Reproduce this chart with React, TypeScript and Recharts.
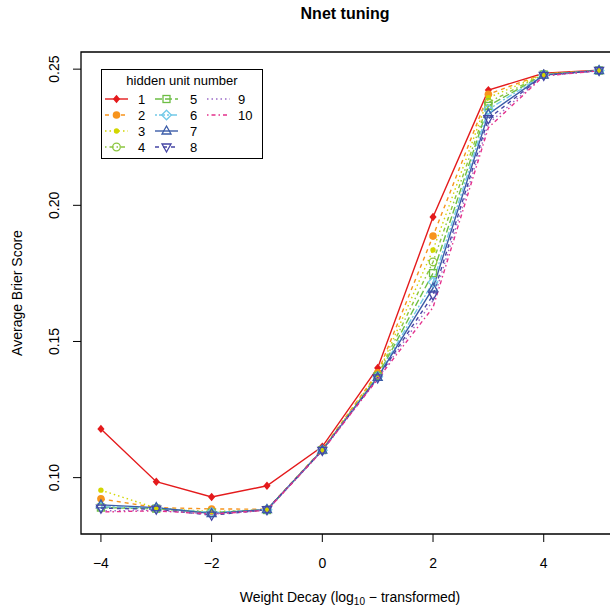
import { LineChart, Line, XAxis, YAxis, ReferenceArea, Legend } from "recharts";

// weight decay (log10) on x, average Brier score per hidden unit count
const DECAY = [-4, -3, -2, -1, 0, 1, 2, 3, 4, 5];
const HIDDEN_UNITS = ["1", "2", "3", "4", "5", "6", "7", "8", "9", "10"];

const BRIER_1 = [0.1179, 0.0985, 0.0929, 0.097, 0.1114, 0.1403, 0.1957, 0.2423, 0.2485, 0.2496];
const BRIER_2 = [0.0922, 0.089, 0.0885, 0.0884, 0.1104, 0.1385, 0.1887, 0.2408, 0.2483, 0.2495];
const BRIER_3 = [0.0954, 0.0888, 0.0875, 0.0882, 0.1103, 0.138, 0.1836, 0.2395, 0.2482, 0.2495];
const BRIER_4 = [0.0892, 0.0887, 0.0872, 0.0882, 0.1102, 0.1375, 0.1792, 0.2378, 0.2481, 0.2495];
const BRIER_5 = [0.089, 0.0886, 0.0871, 0.0881, 0.1101, 0.1372, 0.1751, 0.2365, 0.248, 0.2495];
const BRIER_6 = [0.0893, 0.0888, 0.0872, 0.0882, 0.1101, 0.137, 0.1718, 0.2352, 0.2479, 0.2495];
const BRIER_7 = [0.09, 0.089, 0.0868, 0.0883, 0.1101, 0.1368, 0.1696, 0.2335, 0.2478, 0.2495];
const BRIER_8 = [0.0888, 0.0884, 0.0862, 0.0882, 0.11, 0.1366, 0.167, 0.2318, 0.2477, 0.2495];
const BRIER_9 = [0.0878, 0.088, 0.0866, 0.088, 0.11, 0.1364, 0.165, 0.23, 0.2476, 0.2494];
const BRIER_10 = [0.0874, 0.0878, 0.0866, 0.088, 0.1099, 0.1362, 0.1625, 0.2285, 0.2475, 0.2494];

const BRIER = [BRIER_1, BRIER_2, BRIER_3, BRIER_4, BRIER_5, BRIER_6, BRIER_7, BRIER_8, BRIER_9, BRIER_10];

const X_TICKS = [-4, -2, 0, 2, 4];
const Y_TICKS = [0.1, 0.15, 0.2, 0.25];

const X_DOMAIN: [number, number] = [-4.36, 5.36];
const Y_DOMAIN: [number, number] = [0.0793, 0.2563];

type MarkerKind = "diamondFilled" | "dot" | "smallDot" | "circle" | "square" | "diamond" | "triangle" | "triangleDown" | null;

const STYLES: { color: string; dash?: string; marker: MarkerKind }[] = [
  { color: "#e41a1c", marker: "diamondFilled" },
  { color: "#f7941d", dash: "4 4", marker: "dot" },
  { color: "#d2d600", dash: "1.5 3", marker: "smallDot" },
  { color: "#8cc63f", dash: "1.5 3 4 3", marker: "circle" },
  { color: "#6dbe45", dash: "7 3", marker: "square" },
  { color: "#72c9e8", dash: "2 2 6 2", marker: "diamond" },
  { color: "#3b5ca8", marker: "triangle" },
  { color: "#4545a5", dash: "4 4", marker: "triangleDown" },
  { color: "#9b6bc6", dash: "1.5 3", marker: null },
  { color: "#e4318c", dash: "1.5 3 4 3", marker: null },
];

const FONT = "'Liberation Sans', Arial, Helvetica, sans-serif";

const rows = DECAY.map((x, i) => {
  const r: Record<string, number> = { x };
  HIDDEN_UNITS.forEach((h, k) => { r["h" + h] = BRIER[k][i]; });
  return r;
});

function Marker({ kind, cx, cy, color }: { kind: MarkerKind; cx: number; cy: number; color: string }) {
  switch (kind) {
    case "diamondFilled":
      return <polygon points={`${cx},${cy - 4.2} ${cx + 3.6},${cy} ${cx},${cy + 4.2} ${cx - 3.6},${cy}`} fill={color} />;
    case "dot":
      return <circle cx={cx} cy={cy} r={3.8} fill={color} />;
    case "smallDot":
      return <circle cx={cx} cy={cy} r={2.7} fill={color} />;
    case "circle":
      return <circle cx={cx} cy={cy} r={3.8} fill="none" stroke={color} strokeWidth={1.3} />;
    case "square":
      return <rect x={cx - 3.5} y={cy - 3.5} width={7} height={7} fill="none" stroke={color} strokeWidth={1.3} />;
    case "diamond":
      return <polygon points={`${cx},${cy - 4.8} ${cx + 4.8},${cy} ${cx},${cy + 4.8} ${cx - 4.8},${cy}`} fill="none" stroke={color} strokeWidth={1.3} />;
    case "triangle":
      return <polygon points={`${cx},${cy - 5} ${cx + 4.5},${cy + 3} ${cx - 4.5},${cy + 3}`} fill="none" stroke={color} strokeWidth={1.3} />;
    case "triangleDown":
      return <polygon points={`${cx},${cy + 5} ${cx + 4.5},${cy - 3} ${cx - 4.5},${cy - 3}`} fill="none" stroke={color} strokeWidth={1.3} />;
    default:
      return null;
  }
}

const LegendBox = () => (
  <svg width={162} height={90} style={{ display: "block", fontFamily: FONT }}>
    <rect x={0.5} y={0.5} width={161} height={89} fill="#fff" stroke="#000" />
    <text x={81} y={16} textAnchor="middle" fontSize={13} fill="#000">hidden unit number</text>
    {HIDDEN_UNITS.map((h, i) => {
      const col = Math.floor(i / 4);
      const row = i % 4;
      const x0 = [4, 54, 106][col];
      const cy = 30 + row * 16;
      const s = STYLES[i];
      return (
        <g key={h}>
          <line x1={x0} x2={x0 + 23} y1={cy} y2={cy} stroke={s.color} strokeWidth={1.4} strokeDasharray={s.dash} />
          <Marker kind={s.marker} cx={x0 + 11.5} cy={cy} color={s.color} />
          <text x={[37, 89, 137][col]} y={cy + 4.5} fontSize={13} fill="#000">{h}</text>
        </g>
      );
    })}
  </svg>
);

const XTick = ({ x, y, payload }: any) => (
  <text x={x} y={y + 24} textAnchor="middle" fontSize={14} fill="#000" fontFamily={FONT}>
    {String(payload.value).replace("-", "\u2212")}
  </text>
);

const YTick = ({ x, y, payload }: any) => (
  <text x={x - 12} y={y} transform={`rotate(-90, ${x - 12}, ${y})`} textAnchor="middle" fontSize={14} fill="#000" fontFamily={FONT}>
    {Number(payload.value).toFixed(2)}
  </text>
);

const XLabel = ({ viewBox }: any) => (
  <text x={viewBox.x + viewBox.width / 2} y={viewBox.y + 68} textAnchor="middle" fontSize={14} fill="#000" fontFamily={FONT}>
    <tspan>Weight Decay (log</tspan>
    <tspan fontSize={10} dy={3}>10</tspan>
    <tspan dy={-3}>{" \u2212 transformed)"}</tspan>
  </text>
);

const YLabel = ({ viewBox }: any) => {
  const cx = viewBox.x - 19;
  const cy = viewBox.y + viewBox.height / 2;
  return (
    <text x={cx} y={cy} transform={`rotate(-90, ${cx}, ${cy})`} textAnchor="middle" fontSize={14} fill="#000" fontFamily={FONT}>
      Average Brier Score
    </text>
  );
};

export default function App() {
  return (
    <div style={{ position: "fixed", left: 0, top: 0, width: 610, height: 609, overflow: "hidden", background: "#fff" }}>
      <div style={{ position: "absolute", left: 245, top: 6, width: 200, textAlign: "center", fontFamily: FONT, fontWeight: "bold", fontSize: 16, lineHeight: "16px" }}>
        Nnet tuning
      </div>
      <LineChart width={630} height={609} data={rows} margin={{ top: 52, right: 11, left: 41, bottom: 35 }}>
        <XAxis
          type="number"
          dataKey="x"
          domain={X_DOMAIN}
          ticks={X_TICKS}
          allowDataOverflow
          axisLine={false}
          tickLine={{ stroke: "#000" }}
          tickSize={8}
          height={40}
          tick={XTick}
          label={XLabel}
        />
        <YAxis
          type="number"
          domain={Y_DOMAIN}
          ticks={Y_TICKS}
          allowDataOverflow
          axisLine={false}
          tickLine={{ stroke: "#000" }}
          tickSize={8}
          width={40}
          tick={YTick}
          label={YLabel}
        />
        <ReferenceArea x1={X_DOMAIN[0]} x2={X_DOMAIN[1]} y1={Y_DOMAIN[0]} y2={Y_DOMAIN[1]} fill="none" stroke="#000" strokeWidth={1.3} fillOpacity={0} />
        {HIDDEN_UNITS.map((h, i) => {
          const s = STYLES[i];
          return (
            <Line
              key={h}
              type="linear"
              dataKey={"h" + h}
              stroke={s.color}
              strokeWidth={1.4}
              strokeDasharray={s.dash}
              isAnimationActive={false}
              dot={s.marker ? (p: any) => <Marker key={`${h}-${p.index}`} kind={s.marker} cx={p.cx} cy={p.cy} color={s.color} /> : false}
              activeDot={false}
            />
          );
        })}
        <Legend layout="vertical" align="center" verticalAlign="middle" content={LegendBox} wrapperStyle={{ left: 101, top: 69, width: 162, height: 90 }} />
      </LineChart>
    </div>
  );
}
